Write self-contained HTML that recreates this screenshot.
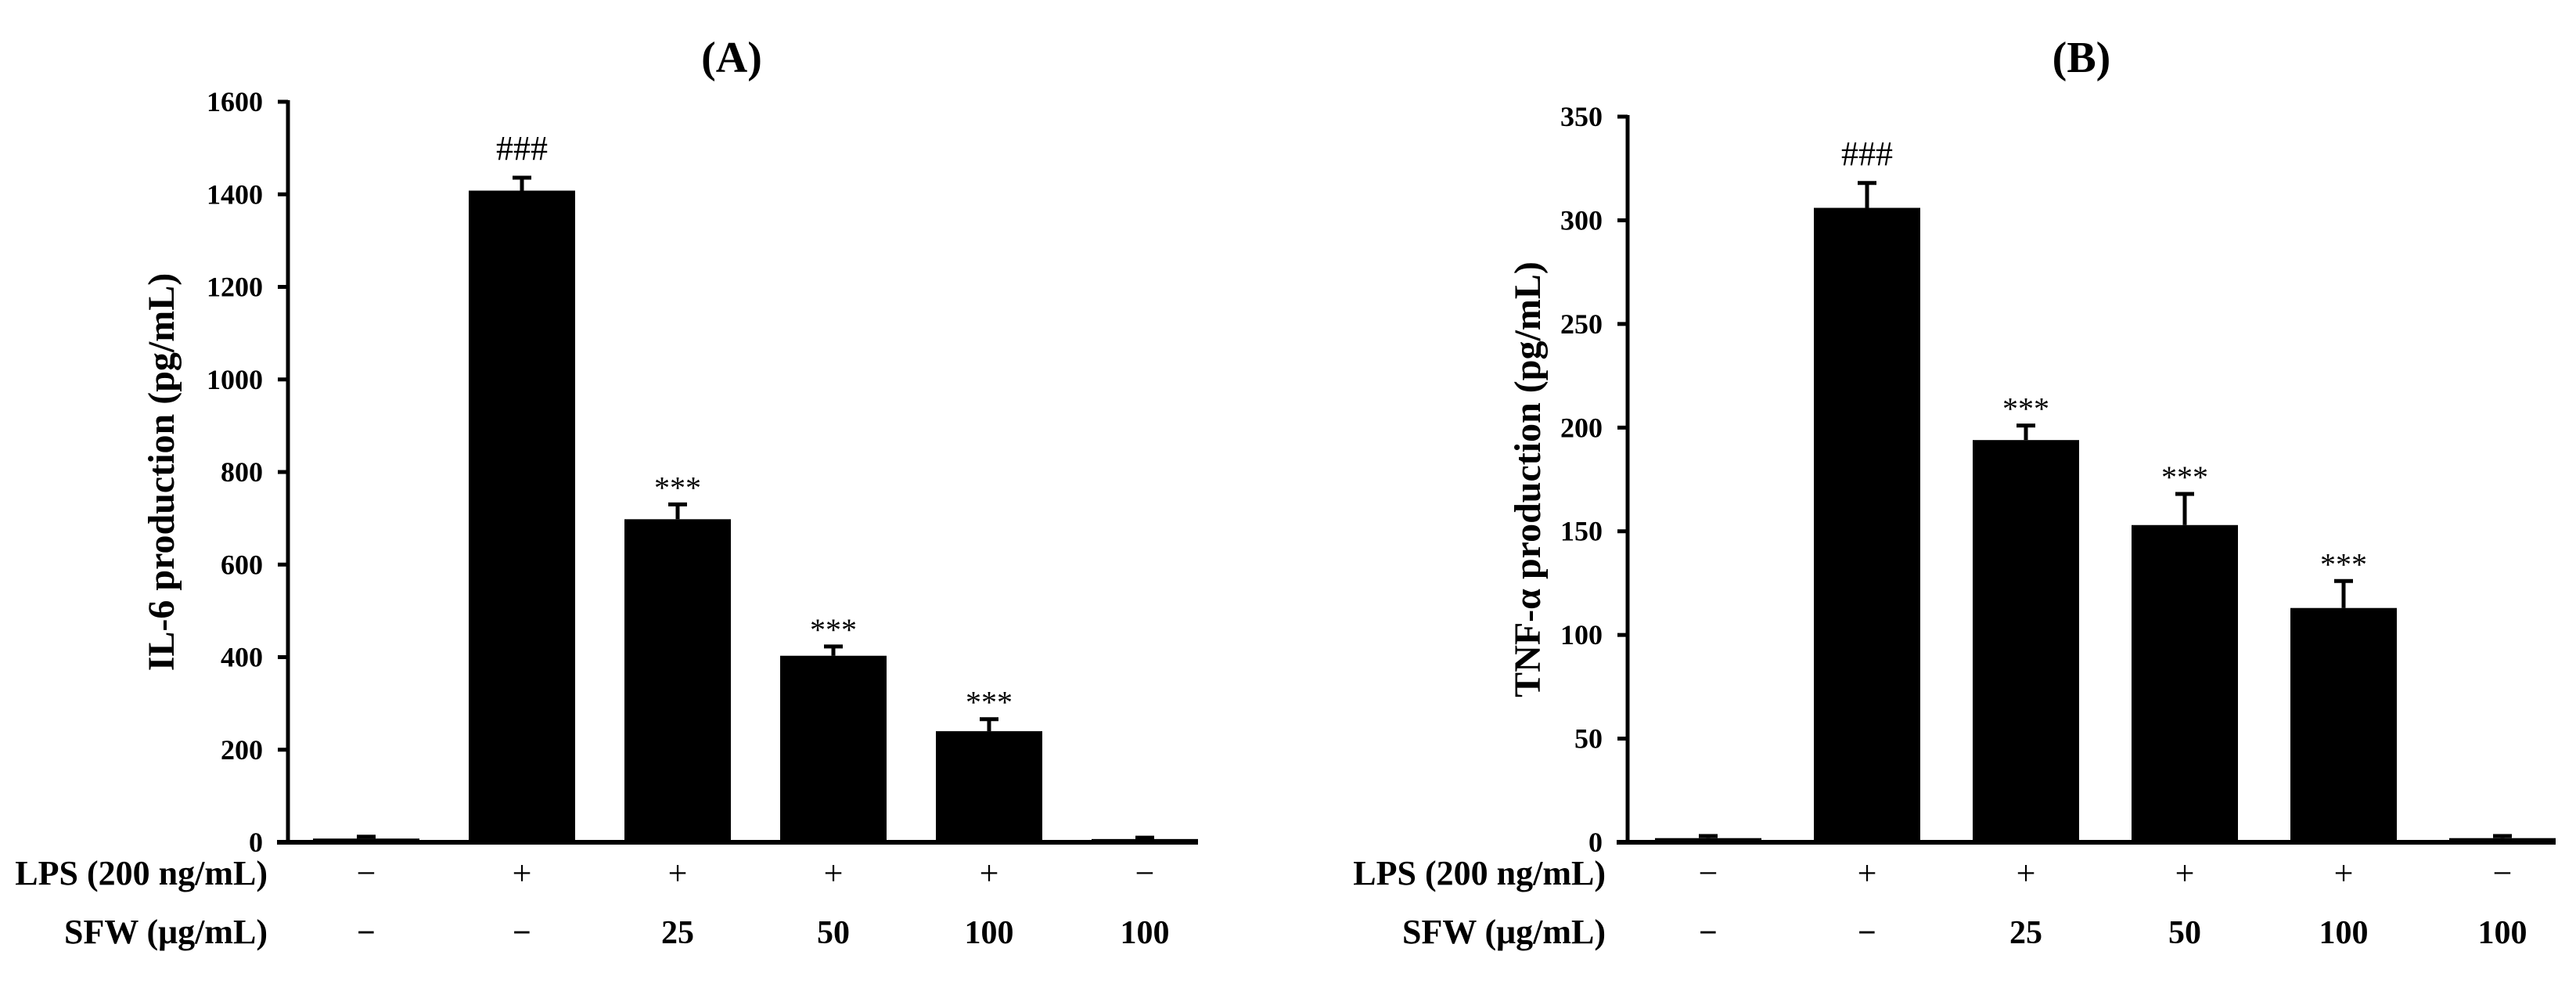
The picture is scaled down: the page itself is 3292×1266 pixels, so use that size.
<!DOCTYPE html>
<html><head><meta charset="utf-8">
<style>
html,body{margin:0;padding:0;background:#fff;}
svg{display:block;font-family:"Liberation Serif",serif;}
</style></head>
<body>
<svg id="fig" width="3292" height="1266" viewBox="0 0 3292 1266" xmlns="http://www.w3.org/2000/svg"></svg>
<script>
const categoriesLPS = ["−","+","+","+","+","−"];
const categoriesSFW = ["−","−","25","50","100","100"];
const il6Values = [8, 1408, 698, 403, 240, 7];
const il6Errors = [4, 28, 32, 20, 26, 3];
const il6Marks = ["", "###", "***", "***", "***", ""];
const il6Ticks = [0,200,400,600,800,1000,1200,1400,1600];
const tnfValues = [2, 306, 194, 153, 113, 2];
const tnfErrors = [1, 12, 7, 15, 13, 1];
const tnfMarks = ["", "###", "***", "***", "***", ""];
const tnfTicks = [0,50,100,150,200,250,300,350];

const NS="http://www.w3.org/2000/svg";
const svg=document.getElementById('fig');
function mk(tag,attrs,parent){const e=document.createElementNS(NS,tag);for(const k in attrs)e.setAttribute(k,attrs[k]);(parent||svg).appendChild(e);return e;}

function panel(opt){
  const g=mk('g',{});
  
  
  const x0=opt.axisX, y0=1076, yTop=opt.yTop, xEnd=opt.xEnd;
  const ymax=opt.ticks[opt.ticks.length-1];
  const yS=v=>y0-(v/ymax)*(y0-yTop);
  const xS=i=>opt.firstCenter+i*opt.step;
  const t=mk('text',{x:opt.titleX,y:92,'font-size':56,'font-weight':'bold','text-anchor':'middle'},g);
  t.textContent=opt.title;
  
  
  const yt=mk('text',{x:0,y:0,'font-size':48,'font-weight':'bold','text-anchor':'middle',transform:`translate(${opt.ytX},${(y0+yTop)/2}) rotate(-90)`},g);
  yt.textContent=opt.ytitle;
  
  
  opt.values.forEach((v,i)=>{
    const cx=xS(i), w=136;
    const r=mk('rect',{x:cx-w/2,y:yS(v),width:w,height:y0-yS(v),fill:'#000'},g);
    
    
    const ey=yS(v+opt.errors[i]);
    const el=mk('path',{d:`M${cx},${yS(v)}V${ey}M${cx-12},${ey}H${cx+12}`,stroke:'#000','stroke-width':5,fill:'none'},g);
    
    
    if(opt.marks[i]){
      const isHash=opt.marks[i][0]==='#';
      const m=mk('text',{x:cx,y:ey-(isHash?23:8),'font-size':isHash?44:40,'text-anchor':'middle'},g);
      m.textContent=opt.marks[i];
      
      
    }
    const l1=mk('text',{x:cx,y:1130,'font-size':44,'text-anchor':'middle'},g);
    l1.textContent=categoriesLPS[i];
    
    
    const l2=mk('text',{x:cx,y:1205,'font-size':42,'font-weight':'bold','text-anchor':'middle'},g);
    l2.textContent=categoriesSFW[i];
    
    
  });
  const ya=mk('line',{x1:x0,y1:yTop-2,x2:x0,y2:y0+3,stroke:'#000','stroke-width':5},g);
  
  
  const xa=mk('line',{x1:x0-14,y1:y0,x2:xEnd,y2:y0,stroke:'#000','stroke-width':6},g);
  
  
  opt.ticks.forEach(v=>{
    const tk=mk('line',{x1:x0-13,y1:yS(v),x2:x0,y2:yS(v),stroke:'#000','stroke-width':5},g);
    
    
    const tl=mk('text',{x:x0-32,y:yS(v)+12,'font-size':36,'font-weight':'bold','text-anchor':'end'},g);
    tl.textContent=v;
    
    
  });
  const r1=mk('text',{x:opt.rowX,y:1130,'font-size':44,'font-weight':'bold','text-anchor':'end'},g);
  r1.textContent='LPS (200 ng/mL)';
  
  
  const r2=mk('text',{x:opt.rowX,y:1205,'font-size':44,'font-weight':'bold','text-anchor':'end'},g);
  r2.textContent='SFW (μg/mL)';
  
  
}

panel({name:'panel-a-il6',title:'(A)',titleX:935,ytitle:'IL-6 production (pg/mL)',ytX:222,axisX:368,yTop:130,xEnd:1531,
  firstCenter:468,step:199,values:il6Values,errors:il6Errors,marks:il6Marks,ticks:il6Ticks,rowX:342});
panel({name:'panel-b-tnf',title:'(B)',titleX:2660,ytitle:'TNF-α production (pg/mL)',ytX:1968,axisX:2080,yTop:149,xEnd:3266,
  firstCenter:2183,step:203,values:tnfValues,errors:tnfErrors,marks:tnfMarks,ticks:tnfTicks,rowX:2052});
</script>
</body></html>
